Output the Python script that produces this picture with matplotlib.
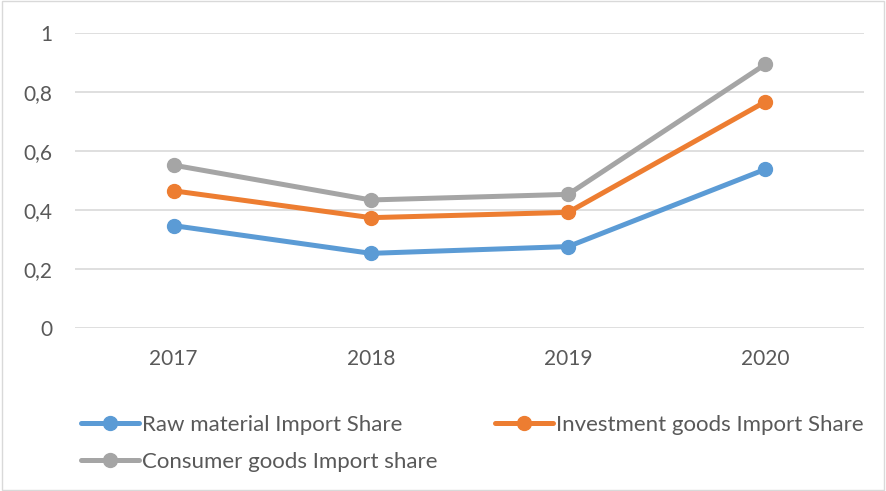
import matplotlib.pyplot as plt
from matplotlib.patches import Rectangle

# data
years = ["2017", "2018", "2019", "2020"]
raw_material = [0.346, 0.252, 0.275, 0.537]
investment_goods = [0.464, 0.373, 0.391, 0.766]
consumer_goods = [0.551, 0.433, 0.452, 0.893]
y_ticks = [0, 0.2, 0.4, 0.6, 0.8, 1]
y_tick_labels = ["0", "0,2", "0,4", "0,6", "0,8", "1"]

plt.rcParams["font.family"] = ["Lato", "DejaVu Sans"]
text_color = "#595959"

fig = plt.figure(figsize=(8.86, 4.91), dpi=100)
ax = fig.add_axes([0.0847, 0.3326, 0.8905, 0.6008])

x = range(len(years))
l1, = ax.plot(x, raw_material, color="#5B9BD5", lw=3.6, marker="o", ms=10,
              solid_capstyle="round", label="Raw material Import Share", zorder=3)
l2, = ax.plot(x, investment_goods, color="#ED7D31", lw=3.6, marker="o", ms=10,
              solid_capstyle="round", label="Investment goods Import Share", zorder=3)
l3, = ax.plot(x, consumer_goods, color="#A5A5A5", lw=3.6, marker="o", ms=10,
              solid_capstyle="round", label="Consumer goods Import share", zorder=3)

ax.set_xlim(-0.5, len(years) - 0.5)
ax.set_ylim(0, 1)
ax.set_xticks(list(x))
ax.set_xticklabels(years)
ax.set_yticks(y_ticks)
ax.set_yticklabels(y_tick_labels)
ax.tick_params(length=0, labelsize=15, colors=text_color)
ax.tick_params(axis="y", pad=16.5)
ax.tick_params(axis="x", pad=15)
ax.grid(axis="y", color="#D9D9D9", lw=1.2)
ax.set_axisbelow(True)
for s in ax.spines.values():
    s.set_visible(False)

# legend: row 1 raw + investment, row 2 consumer
fig.legend([l1, l3, l2], [l1.get_label(), l3.get_label(), l2.get_label()],
           loc="upper left", bbox_to_anchor=(0.0914, 0.155), ncol=2,
           frameon=False, fontsize=16, labelcolor=text_color,
           handlelength=2.63, handletextpad=0.1, columnspacing=2.6,
           labelspacing=0.78, borderaxespad=0, borderpad=0)

# chart border
fig.patches.append(Rectangle((0.002, 0.002), 0.996, 0.996, transform=fig.transFigure,
                             fill=False, ec="#D9D9D9", lw=1))

fig.savefig("out.png", dpi=100)
